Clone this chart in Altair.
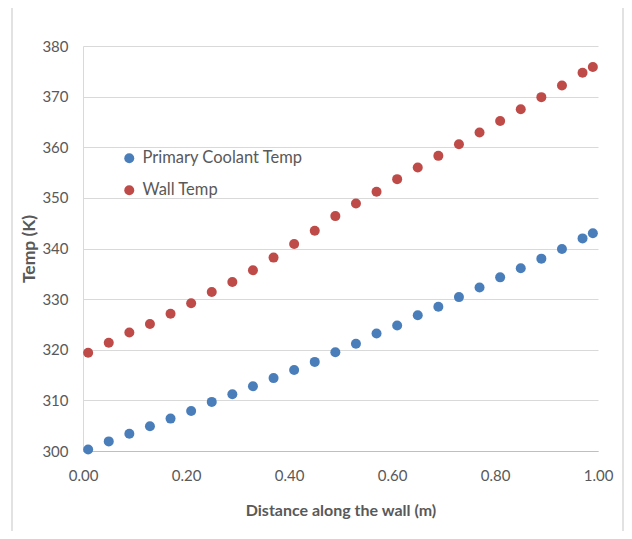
import altair as alt
import pandas as pd

distance = [0.01, 0.05, 0.09, 0.13, 0.17, 0.21, 0.25, 0.29, 0.33, 0.37, 0.41, 0.45, 0.49,
            0.53, 0.57, 0.61, 0.65, 0.69, 0.73, 0.77, 0.81, 0.85, 0.89, 0.93, 0.97, 0.99]
coolant_temp = [300.3, 301.9, 303.4, 304.9, 306.4, 307.9, 309.7, 311.2, 312.8, 314.4, 316.0, 317.6, 319.5,
                321.2, 323.2, 324.8, 326.8, 328.5, 330.4, 332.3, 334.3, 336.1, 338.0, 339.9, 342.0, 343.0]
wall_temp = [319.4, 321.4, 323.4, 325.1, 327.1, 329.2, 331.4, 333.4, 335.7, 338.2, 340.9, 343.5, 346.4,
             348.9, 351.2, 353.7, 356.0, 358.3, 360.6, 362.9, 365.2, 367.5, 369.9, 372.2, 374.7, 375.85]
series_names = ["Primary Coolant Temp", "Wall Temp"]
series_colors = ["#4A7EBB", "#BE4B48"]

rows = []
for d, c in zip(distance, coolant_temp):
    rows.append({"x": d, "y": c, "series": series_names[0]})
for d, w in zip(distance, wall_temp):
    rows.append({"x": d, "y": w, "series": series_names[1]})
df = pd.DataFrame(rows)

FONT = "Lato"
GRAY = "#595959"
BORDER = "#d9d9d9"

points = alt.Chart(df).mark_circle(size=100, opacity=1).encode(
    x=alt.X("x:Q", title="Distance along the wall (m)",
            scale=alt.Scale(domain=[0, 1], nice=False),
            axis=alt.Axis(values=[0, 0.2, 0.4, 0.6, 0.8, 1.0], format=".2f", grid=False,
                          ticks=False, labelPadding=17, titlePadding=19, labelFlush=False,
                          domainColor="#bfbfbf", domainWidth=1)),
    y=alt.Y("y:Q", title="Temp (K)",
            scale=alt.Scale(domain=[300, 380], nice=False, zero=False),
            axis=alt.Axis(values=list(range(300, 381, 10)), grid=True, gridColor="#d9d9d9",
                          ticks=False, labelPadding=15, titlePadding=3, labelFlush=False,
                          titleFontSize=17.5,
                          domainColor="#d9d9d9", domainWidth=1)),
    color=alt.Color("series:N", sort=series_names,
                    scale=alt.Scale(domain=series_names, range=series_colors),
                    legend=alt.Legend(title=None, orient="none", legendX=38, legendY=104,
                                      labelFontSize=16.5, labelColor=GRAY, labelFont=FONT,
                                      labelLimit=400,
                                      symbolSize=100, symbolType="circle", rowPadding=15,
                                      labelOffset=5, symbolOpacity=1)),
)

# chart-area frame (decoration)
frame_base = alt.Chart(pd.DataFrame({"k": [0]}))
frame_left = frame_base.mark_rule(color=BORDER, strokeWidth=1.5).encode(
    x=alt.value(-71), y=alt.value(-42), y2=alt.value(495))
frame_top = frame_base.mark_rule(color=BORDER, strokeWidth=1.5).encode(
    x=alt.value(-71), x2=alt.value(540), y=alt.value(-42))
frame_right = frame_base.mark_rule(color=BORDER, strokeWidth=1.5).encode(
    x=alt.value(540), y=alt.value(-42), y2=alt.value(495))

chart = alt.layer(points, frame_left, frame_top, frame_right).properties(
    width=515, height=405,
    background="white",
    autosize=alt.AutoSizeParams(type="none"),
    padding={"left": 75, "top": 38, "right": 26, "bottom": 80},
).configure_axis(
    labelFont=FONT, labelFontSize=15, labelColor=GRAY,
    titleFont=FONT, titleFontSize=16, titleColor=GRAY, titleFontWeight="bold",
).configure_view(stroke=None)

chart.save("out.html", embed_options={"renderer": "svg", "actions": False})
